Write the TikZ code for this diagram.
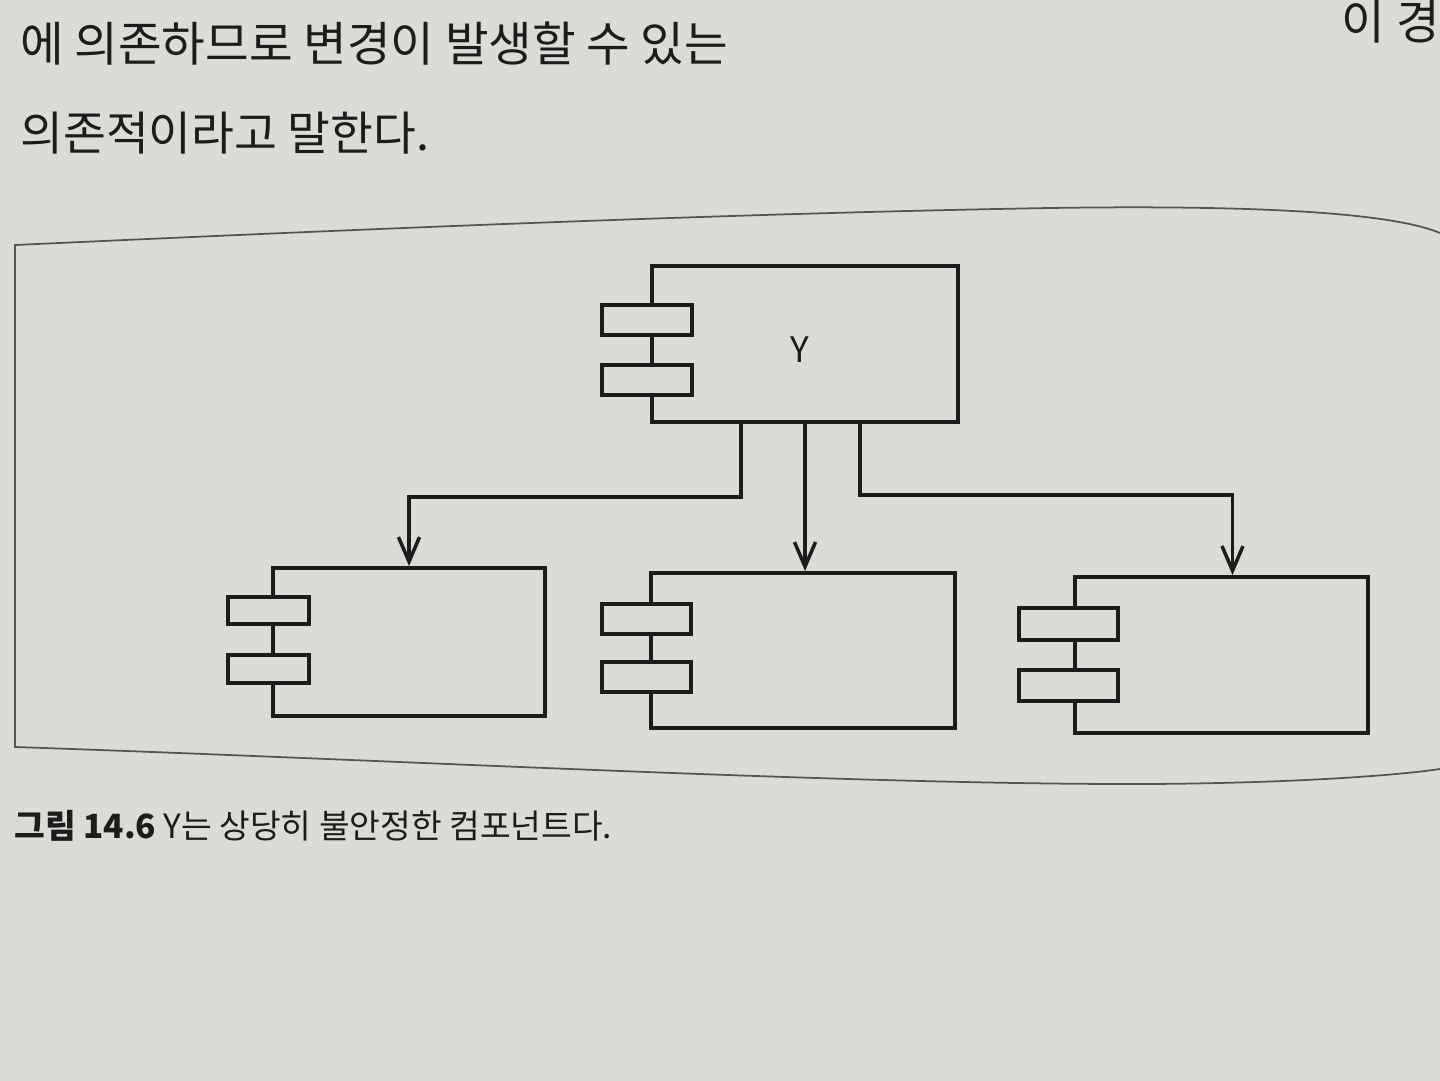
\documentclass[tikz,border=0pt]{standalone}
\usepackage{fontspec}
\setmainfont{Noto Sans CJK KR}
\newfontfamily\kr{Noto Sans CJK KR}
\usetikzlibrary{arrows.meta,fit,calc}
\definecolor{paper}{HTML}{DCDBD6}
\definecolor{ink}{HTML}{1E1B1D}
\begin{document}
\begin{tikzpicture}[x=0.02cm,y=-0.02cm,
  body/.style={draw=ink,line width=2.2pt,inner sep=0pt},
  port/.style={draw=ink,line width=2.2pt,fill=paper,inner sep=0pt},
  dep/.style={draw=ink,line width=2.2pt,-{Straight Barb[length=14pt,width=12pt,line width=2pt]}},
  frame/.style={draw=ink!75,line width=1pt},
  ptext/.style={text=ink,anchor=west,inner sep=0pt}]
\fill[paper] (0,0) rectangle (1440,1081);
\useasboundingbox (0,0) rectangle (1440,1081);

% page text
\node[ptext,font=\kr\fontsize{27}{27}\selectfont] (t1) at (20,44) {에 의존하므로 변경이 발생할 수 있는};
\node[ptext,anchor=east,font=\kr\fontsize{27}{27}\selectfont] (t1b) at (1440,22) {이 경};
\node[ptext,font=\kr\fontsize{26.5}{26.5}\selectfont] (t2) at (20,133) {의존적이라고 말한다.};

% figure frame
\draw[frame] (1440,233) .. controls (1390,212) and (1250,205) .. (1050,208)
  .. controls (700,214) and (300,232) .. (15,245) -- (15,747)
  .. controls (400,760) and (850,785) .. (1150,784)
  .. controls (1300,783) and (1400,775) .. (1440,769);

% component Y
\node[body,fit={(652,266)(958,422)}] (Y) {};
\node[port,fit={(602,305)(692,335)}] (Yp1) {};
\node[port,fit={(602,365)(692,395)}] (Yp2) {};
\node[text=ink,font=\fontsize{20}{20}\selectfont] (Ylab) at (800,350) {Y};

% component A
\node[body,fit={(273,568)(545,716)}] (A) {};
\node[port,fit={(228,597)(309,624)}] (Ap1) {};
\node[port,fit={(228,655)(309,683)}] (Ap2) {};

% component B
\node[body,fit={(651,573)(955,728)}] (B) {};
\node[port,fit={(602,604)(691,634)}] (Bp1) {};
\node[port,fit={(602,662)(691,692)}] (Bp2) {};

% component C
\node[body,fit={(1075,577)(1368,733)}] (C) {};
\node[port,fit={(1019,608)(1118,640)}] (Cp1) {};
\node[port,fit={(1019,670)(1118,701)}] (Cp2) {};

% dependencies
\draw[dep] ([xshift=-1.28cm]Y.south) -- ++(0,-1.46cm) -| (A.north);
\draw[dep] (Y.south) -- (Y.south |- B.north);
\draw[dep] ([xshift=1.1cm]Y.south) -- ++(0,-1.42cm) -| ([xshift=0.22cm]C.north);

% caption
\node[ptext,font=\kr\fontsize{19}{19}\selectfont] (cap) at (14,826) {\textbf{그림 14.6} Y는 상당히 불안정한 컴포넌트다.};
\end{tikzpicture}
\end{document}
